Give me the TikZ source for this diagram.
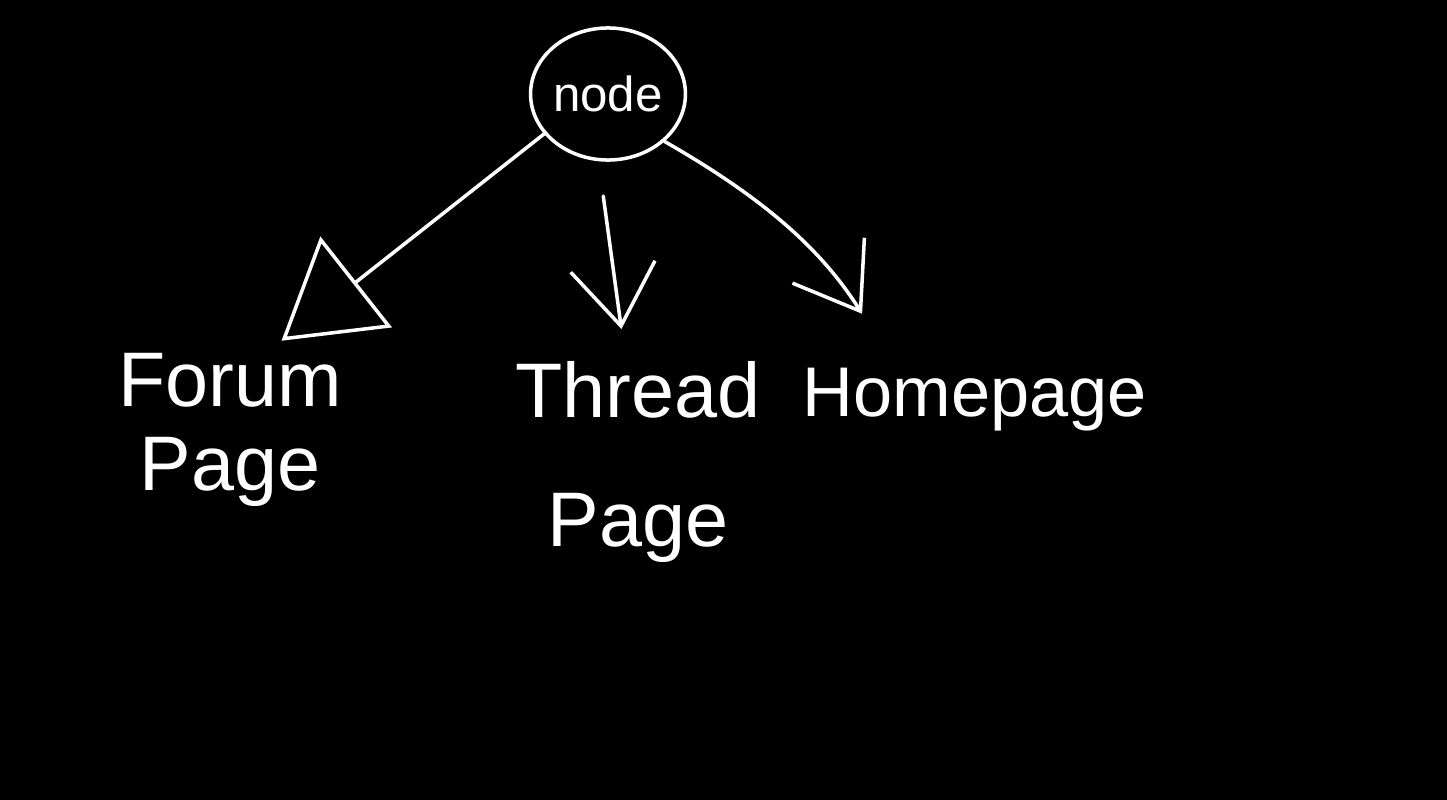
\documentclass[tikz,border=0pt]{standalone}
\usepackage{fontspec}
\setmainfont{Liberation Sans}
\usetikzlibrary{arrows.meta,shapes.geometric}
\begin{document}
\begin{tikzpicture}[x=0.01cm,y=-0.01cm,
  ink/.style={draw=white,line width=1pt,line cap=round,line join=round},
  label/.style={text=white,align=center,font=\fontsize{22}{24}\selectfont},
  openhead/.style={-{Triangle[open,length=0.95cm,width=1.15cm,line width=1pt]}},
  vhead/.style={-{Straight Barb[length=0.6cm,width=0.85cm,line width=1pt]}}]
\fill[black] (0,0) rectangle (1447,800);
\node[ink,ellipse,inner sep=0pt,minimum width=1.52cm,minimum height=1.32cm,text=white,font=\fontsize{14}{16}\selectfont] (top) at (608,94) {node};
\node[label] (forum) at (230,430) {Forum\\Page};
\node[label] (thread) at (638,462) {Thread\\[0.45cm]Page};
\node[label,font=\fontsize{20}{22}\selectfont] (home) at (975,400) {Homepage};
\draw[ink,openhead] (top.212) -- (forum.60);
\draw[ink,vhead,shorten <=0.35cm,shorten >=0.2cm] (top.262) -- (thread.97);
\draw[ink,vhead,shorten >=0.5cm] (top.-40) to[bend left=14] (home.153);
\end{tikzpicture}
\end{document}
